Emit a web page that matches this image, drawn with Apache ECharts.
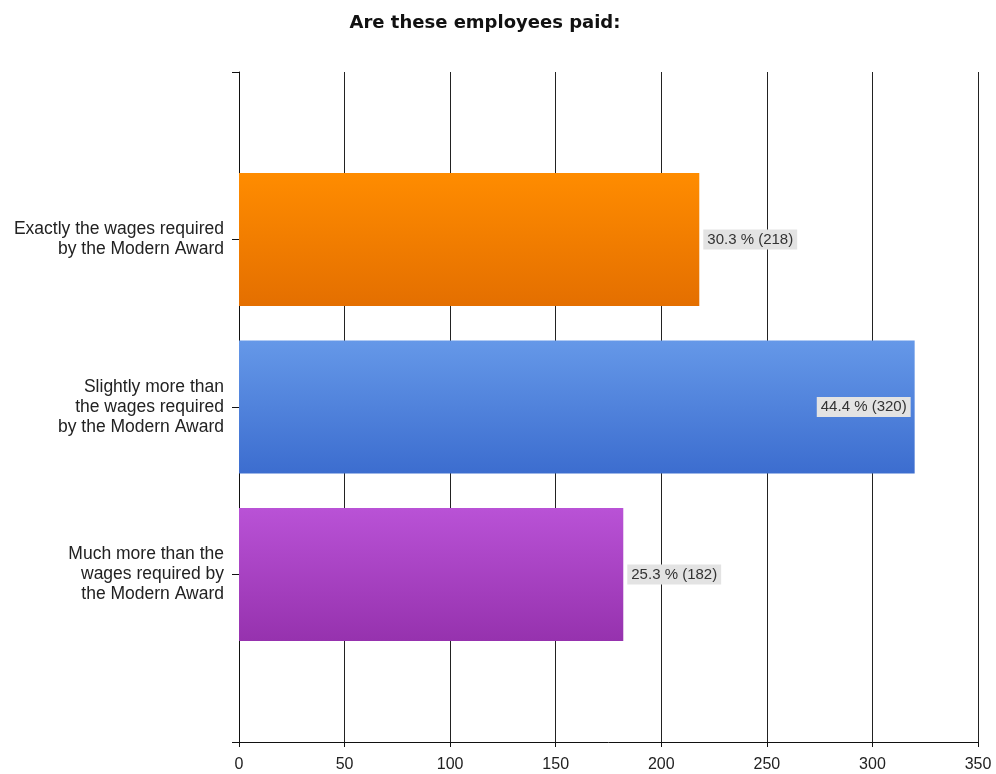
<!DOCTYPE html>
<html>
<head>
<meta charset="utf-8">
<script src="https://cdn.jsdelivr.net/npm/echarts@6/dist/echarts.min.js"></script>
<style>
  html, body { margin: 0; padding: 0; background: #fff; }
  #chart { width: 996px; height: 774px; }
</style>
</head>
<body>
<div id="chart"></div>
<script>
// Survey answers and response counts
const categories = [
  'Exactly the wages required\nby the Modern Award',
  'Slightly more than\nthe wages required\nby the Modern Award',
  'Much more than the\nwages required by\nthe Modern Award'
];
const counts = [218, 320, 182];
const percents = ['30.3', '44.4', '25.3'];
const xTicks = [0, 50, 100, 150, 200, 250, 300, 350];

// Top / bottom colour stops for each bar's vertical gradient
const barColors = [
  ['#ff8c00', '#e46f00'],
  ['#6598e8', '#3c6dcf'],
  ['#b952d6', '#9632ae']
];
// Counts that sit inside the bar end rather than past it
const labelInside = [false, true, false];

function gradient(pair) {
  return new echarts.graphic.LinearGradient(0, 0, 0, 1, [
    { offset: 0, color: pair[0] },
    { offset: 1, color: pair[1] }
  ]);
}

// Padded category axis: an empty slot at each end so the
// three bars sit on the inner tick marks
const axisCats = [''].concat(categories, ['']);
const seriesData = [null].concat(counts.map((v, i) => ({
  value: v,
  itemStyle: { color: gradient(barColors[i]) },
  label: {
    position: labelInside[i] ? 'insideRight' : 'right',
    distance: 4
  }
})), [null]);

const chart = echarts.init(document.getElementById('chart'));
chart.setOption({
  animation: false,
  backgroundColor: '#fff',
  title: {
    text: 'Are these employees paid:',
    left: 480,
    textAlign: 'center',
    top: 9,
    textStyle: { fontFamily: 'DejaVu Sans', fontWeight: 'bold', fontSize: 18, color: '#111' }
  },
  grid: { left: 239, right: 18, top: 72, bottom: 32, containLabel: false },
  xAxis: {
    type: 'value',
    min: xTicks[0],
    max: xTicks[xTicks.length - 1],
    interval: xTicks[1] - xTicks[0],
    axisLine: { show: true, lineStyle: { color: '#111', width: 1 } },
    axisTick: { show: true, length: 5, lineStyle: { color: '#111' } },
    axisLabel: { fontFamily: 'Liberation Sans', fontSize: 16, color: '#222', margin: 15 },
    splitLine: { show: true, lineStyle: { color: '#222', width: 1 } }
  },
  yAxis: {
    type: 'category',
    inverse: true,
    boundaryGap: false,
    data: axisCats,
    axisLine: { show: true, lineStyle: { color: '#111', width: 1 } },
    axisTick: { show: true, length: 7, lineStyle: { color: '#111' } },
    axisLabel: {
      fontFamily: 'Liberation Sans', fontSize: 17.5, color: '#222',
      lineHeight: 20, align: 'right', margin: 15
    },
    splitLine: { show: false }
  },
  series: [{
    type: 'bar',
    data: seriesData,
    barWidth: 133,
    label: {
      show: true,
      fontFamily: 'Liberation Sans',
      fontSize: 15,
      color: '#333',
      backgroundColor: '#e3e3e3',
      padding: [3, 4, 2, 4],
      formatter: p => percents[p.dataIndex - 1] + ' % (' + p.value + ')'
    }
  }]
});
</script>
</body>
</html>
